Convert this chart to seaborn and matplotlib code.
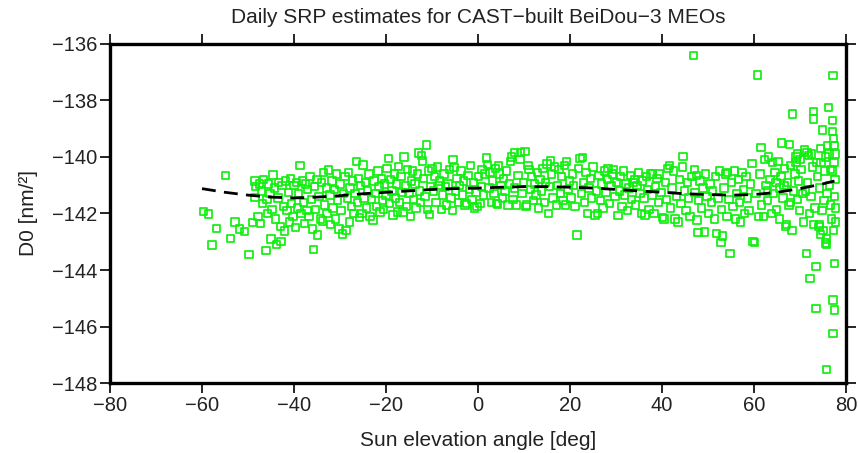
import matplotlib
matplotlib.use("Agg")
import matplotlib.pyplot as plt
import seaborn as sns
import pandas as pd

# ---- data ----
elev_a = [-59.7, -58.6, -57.8, -56.8, -54.9, -53.8, -52.8, -51.9, -50.8, -49.8, -49.0, -48.5, -48.5, -48.3]
d0_a = [-141.93, -142.02, -143.12, -142.52, -140.66, -142.88, -142.3, -142.55, -142.64, -143.44, -142.31, -140.85, -141.44, -141.05]

elev_b = [-47.8, -47.5, -47.3, -47.0, -46.8, -46.6, -46.1, -45.9, -45.7, -45.5, -45.2, -45.0, -44.8, -44.6,
          -44.3, -44.0, -43.8, -43.5, -43.3, -43.0, -42.8, -42.6, -42.3, -42.0, -41.8, -41.5, -41.2, -41.0,
          -40.7, -40.5, -40.2, -40.0, -39.7, -39.5, -39.2, -39.0, -38.7, -38.5, -38.2, -38.0, -37.7, -37.5,
          -37.2, -37.0, -36.7, -36.5, -36.2, -36.0, -35.8, -35.5, -35.3, -35.0, -34.9, -34.6, -34.3, -34.0,
          -33.8, -33.6, -33.3, -33.0, -32.8, -32.5, -32.2, -32.0, -31.7, -31.5, -31.2, -31.0, -30.7, -30.5,
          -30.2, -30.0, -29.8, -29.5, -29.2, -28.9, -28.7]
d0_b = [-142.1, -140.95, -142.36, -141.2, -141.65, -140.8, -143.3, -141.5, -142.0, -140.95, -141.3, -142.9, -141.85, -140.64,
        -141.1, -142.2, -143.1, -141.45, -140.9, -142.45, -143.0, -141.0, -141.75, -142.62, -140.85, -141.9, -141.25, -142.3,
        -140.75, -141.65, -142.1, -141.0, -142.5, -140.9, -141.8, -141.3, -140.3, -142.0, -140.85, -141.6, -142.35, -140.95,
        -141.9, -141.15, -142.1, -140.7, -141.5, -142.55, -143.27, -141.05, -141.85, -140.8, -142.76, -141.4, -142.2, -140.9,
        -142.26, -140.55, -141.7, -141.1, -142.0, -140.46, -141.35, -142.4, -140.85, -141.8, -141.15, -142.2, -140.6, -141.55,
        -142.55, -140.95, -141.9, -142.73, -141.3, -140.7, -142.6]

elev_c = [-28.4, -28.2, -28.0, -27.8, -27.5, -27.3, -27.0, -26.7, -26.4, -26.2, -26.0, -25.8, -25.5, -25.2,
          -25.0, -24.8, -24.5, -24.2, -24.0, -23.7, -23.5, -23.2, -22.8, -22.6, -22.3, -22.0, -21.7, -21.5,
          -21.3, -21.0, -20.8, -20.6, -20.3, -20.0, -19.8, -19.5, -19.2, -19.0, -18.7, -18.5, -18.2, -18.0,
          -17.7, -17.5, -17.3, -17.0, -16.7, -16.5, -16.3, -16.1, -15.8, -15.5, -15.3, -15.0, -14.7, -14.5,
          -14.3, -14.0, -13.7, -13.5, -13.2, -13.0, -12.7, -12.5, -12.3, -12.1, -11.8, -11.5, -11.2, -11.0,
          -10.8, -10.6, -10.3, -10.0]
d0_c = [-141.45, -140.55, -142.3, -141.1, -141.75, -140.85, -142.0, -141.3, -140.16, -141.6, -140.75, -142.15, -141.0, -142.0,
        -140.28, -141.45, -140.9, -141.8, -141.2, -140.6, -142.1, -141.5, -142.23, -140.85, -141.3, -141.75, -140.5, -141.05,
        -141.95, -140.75, -141.55, -141.85, -140.95, -141.35, -140.4, -140.05, -141.65, -140.8, -141.2, -142.05, -140.6, -141.45,
        -140.95, -141.95, -140.34, -141.6, -140.7, -141.25, -141.95, -140.0, -141.0, -141.75, -140.45, -141.3, -142.1, -140.85,
        -140.5, -141.5, -140.95, -141.8, -140.6, -139.86, -141.2, -141.6, -139.95, -140.14, -140.75, -141.4, -139.58, -141.85,
        -140.5, -142.03, -141.05, -140.4]

elev_d = [-9.7, -9.4, -9.1, -8.8, -8.5, -8.3, -8.0, -7.7, -7.4, -7.1, -6.8, -6.5, -6.2, -5.9, -5.6, -5.4, -5.2,
          -4.9, -4.6, -4.3, -4.0, -3.7, -3.4, -3.1, -2.8, -2.5, -2.2, -1.9, -1.6, -1.3, -1.0, -0.7, -0.4, -0.2,
          0.1, 0.4, 0.7, 0.9, 1.2, 1.5, 1.9, 2.1, 2.4, 2.6, 2.9, 3.2, 3.5, 3.8, 4.0, 4.2, 4.4, 4.7, 5.0, 5.3,
          5.6, 5.9, 6.2, 6.5, 6.8, 7.1, 7.3, 7.6, 7.9, 8.0, 8.4, 8.7, 9.1, 9.3, 9.6, 9.9, 10.2, 10.4, 10.6,
          10.9, 11.1, 11.4, 11.7, 12.0, 12.3, 12.6, 12.9, 13.2, 13.5, 13.8, 14.1, 14.4, 14.7, 15.0, 15.3, 15.6,
          15.7, 16.0, 16.3, 16.6, 17.0, 17.3, 17.6, 17.9, 18.2, 18.5, 18.8, 19.0, 19.3, 19.6, 19.9, 20.2, 20.5,
          20.8, 21.1, 21.5, 21.8, 22.2, 22.5, 22.7, 22.9, 23.2, 23.5, 23.8, 24.1, 24.4, 24.7, 25.0, 25.4, 25.7,
          26.0, 26.3, 26.6, 26.9, 27.2, 27.5, 27.8, 28.1, 28.3, 28.6, 28.9, 29.2, 29.5, 29.8, 30.1, 30.4, 30.7,
          31.0, 31.3, 31.6, 31.9, 32.2, 32.5, 32.8, 33.1, 33.4, 33.7, 34.0, 34.3, 34.6, 34.9, 35.2, 35.5, 35.8,
          36.1, 36.3, 36.6, 36.9, 37.2, 37.5, 37.8, 38.0, 38.3, 38.6, 38.9, 39.2, 39.5, 39.8]
d0_d = [-141.2, -140.7, -141.6, -140.35, -141.0, -140.85, -141.85, -141.35, -140.6, -141.05, -141.7, -140.95, -140.45, -141.45, -141.9, -140.1, -140.38,
        -141.2, -140.75, -141.6, -141.0, -140.5, -141.35, -140.85, -141.7, -141.64, -140.65, -141.15, -140.3, -141.5, -140.9, -141.8, -141.25, -141.75,
        -140.7, -141.64, -141.05, -140.45, -141.35, -140.6, -140.04, -140.27, -141.1, -140.55, -141.6, -140.85, -141.3, -140.4, -141.65, -141.66, -140.3, -140.6, -141.0, -141.45,
        -140.75, -141.2, -140.5, -141.7, -140.95, -140.16, -140.0, -141.5, -141.1, -139.85, -141.7, -140.65, -140.1, -139.85, -141.3, -140.9, -139.8, -141.75, -141.7,
        -140.3, -140.45, -141.15, -140.7, -141.55, -140.95, -141.35, -140.55, -141.8, -140.8, -141.2, -140.4, -141.6, -140.9, -140.25, -141.99, -141.05,
        -140.14, -140.6, -141.45, -140.35, -141.7, -141.0, -140.45, -141.3, -140.7, -141.55, -140.3, -141.7, -140.15, -141.15, -140.85, -141.45, -140.6,
        -141.0, -141.75, -142.76, -140.4, -140.05, -141.3, -140.02, -140.9, -141.6, -140.55, -142.0, -141.1, -140.75, -141.45, -140.35, -142.06, -141.2,
        -142.0, -140.65, -141.55, -140.95, -141.8, -140.5, -141.25, -140.8, -140.4, -141.65, -141.0, -140.6, -140.45, -141.4, -140.9, -142.06, -141.2,
        -140.7, -141.75, -140.5, -141.35, -140.95, -141.9, -141.1, -140.65, -141.5, -140.9, -140.8, -141.7, -141.0, -140.55, -141.3, -142.0, -140.85,
        -141.45, -142.05, -140.7, -141.15, -141.85, -140.6, -141.35, -140.6, -142.0, -141.05, -140.75, -141.6, -140.6, -141.25]

elev_e = [40.1, 40.4, 40.7, 41.0, 41.3, 41.6, 41.9, 42.2, 42.5, 42.8, 43.1, 43.5, 43.8, 44.1, 44.4, 44.6, 44.9,
          45.2, 45.5, 45.8, 46.1, 46.4, 46.8, 47.0, 47.2, 47.5, 47.6, 47.8, 48.0, 48.3, 48.6, 48.9, 49.3, 49.5,
          49.8, 50.1, 50.4, 50.7, 51.0, 51.4, 51.7, 51.9, 52.2, 52.5, 52.8, 53.0, 53.2, 53.5, 53.8, 54.1, 54.3,
          54.6, 54.8, 55.1, 55.4, 55.7, 56.0, 56.3, 56.6, 56.9, 57.0, 57.4, 57.7, 58.0, 58.3, 58.6, 58.9, 59.2,
          59.6, 59.8, 60.1, 60.4, 60.7, 61.0, 61.3, 61.5, 61.7, 62.0]
d0_e = [-142.15, -142.2, -140.9, -141.5, -140.4, -140.3, -141.8, -141.1, -140.5, -142.2, -141.4, -142.3, -140.8, -141.65, -140.35, -139.99, -141.2,
        -141.9, -140.9, -141.45, -142.1, -140.7, -136.41, -140.45, -141.25, -140.65, -142.23, -142.68, -141.55, -140.85, -141.8, -141.1, -142.65, -140.6,
        -141.4, -142.0, -140.95, -141.6, -141.2, -142.2, -140.7, -142.7, -141.45, -140.5, -143.03, -141.85, -142.8, -141.1, -140.6, -142.1, -140.55,
        -141.5, -143.41, -140.9, -141.75, -140.5, -142.2, -141.3, -140.8, -141.6, -142.3, -140.55, -141.15, -142.0, -140.7, -141.45, -141.9, -140.95,
        -140.22, -143.0, -143.03, -141.3, -137.1, -142.1, -140.6, -139.66, -141.7, -142.1]

elev_f = [62.3, 62.6, 62.9, 63.0, 63.2, 63.5, 63.8, 64.0, 64.3, 64.6, 64.8, 64.9, 65.2, 65.5, 65.6, 65.9, 66.0,
          66.3, 66.5, 66.6, 66.9, 67.0, 67.3, 67.6, 67.7, 68.0, 68.0, 68.3, 68.4, 68.6, 68.9, 69.1, 69.1, 69.4,
          69.5, 69.7, 69.9, 70.0, 70.2, 70.5, 70.8, 71.0, 71.2, 71.4, 71.5, 71.7, 71.8, 72.0, 72.2, 72.4, 72.5,
          72.7, 72.9, 73.0, 73.0, 73.3, 73.5, 73.5, 73.6, 73.8, 74.1, 74.3, 74.3, 74.4, 74.5, 74.6, 74.8, 74.9,
          75.0, 75.2, 75.3, 75.5, 75.5, 75.7, 75.8, 75.8, 75.9, 76.0, 76.2, 76.3, 76.4, 76.6, 76.7, 76.8, 77.0,
          77.0, 77.1, 77.2, 77.2, 77.2, 77.3, 77.3, 77.4, 77.4, 77.5, 77.5, 77.5, 77.6, 77.6, 77.7, 77.7]
d0_f = [-140.1, -141.0, -141.55, -141.2, -140.0, -140.8, -142.0, -140.2, -141.3, -140.55, -140.9, -141.85, -140.15, -141.1, -142.2, -140.7, -139.5,
        -141.45, -141.0, -140.4, -142.45, -142.4, -140.9, -141.7, -139.55, -140.3, -141.6, -142.6, -138.48, -141.2, -140.6, -140.0, -140.2, -141.5,
        -139.9, -140.85, -141.9, -140.1, -140.45, -141.3, -142.3, -139.75, -141.2, -143.41, -139.85, -140.9, -139.95, -142.0, -144.3, -141.4, -139.9,
        -140.35, -142.4, -138.4, -138.65, -141.8, -143.88, -145.36, -140.2, -140.7, -142.45, -141.1, -142.4, -139.7, -142.75, -140.2, -141.9, -139.04,
        -142.6, -141.55, -140.5, -140.0, -143.05, -143.1, -142.9, -147.52, -141.3, -139.6, -138.24, -139.9, -141.0, -140.45, -141.7, -142.2, -138.7,
        -140.5, -139.1, -137.12, -145.06, -146.24, -139.35, -142.6, -140.2, -139.6, -143.76, -145.42, -141.4, -139.9, -140.8, -141.8, -142.3]

# fitted curve (dashed)
fit_elev = [-60, -55, -50, -45, -40, -35, -30, -25, -20, -15, -10, -5, 0, 5, 10, 15, 20, 25, 30, 35,
            40, 45, 50, 55, 60, 65, 70, 75, 77.5]
fit_d0 = [-141.12, -141.25, -141.35, -141.42, -141.45, -141.42, -141.37, -141.3, -141.25, -141.2, -141.15,
          -141.12, -141.1, -141.07, -141.05, -141.05, -141.07, -141.1, -141.15, -141.2, -141.25, -141.3,
          -141.33, -141.35, -141.33, -141.25, -141.12, -140.95, -140.85]

x_ticks = [-80, -60, -40, -20, 0, 20, 40, 60, 80]
y_ticks = [-136, -138, -140, -142, -144, -146, -148]

# ---- build frames ----
elev = elev_a + elev_b + elev_c + elev_d + elev_e + elev_f
d0 = d0_a + d0_b + d0_c + d0_d + d0_e + d0_f
pts = pd.DataFrame({"elev": elev, "d0": d0})
fit = pd.DataFrame({"elev": fit_elev, "d0": fit_d0})

sns.set_style("ticks")
plt.rcParams["font.family"] = ["Liberation Sans", "DejaVu Sans"]

fig = plt.figure(figsize=(8.58, 4.53), dpi=100)
ax = fig.add_axes([0.1282, 0.1545, 0.8578, 0.7484])

sns.scatterplot(data=pts, x="elev", y="d0", ax=ax, marker="s", s=28,
                facecolors="none", edgecolor="#11ee11", linewidth=1.25, zorder=2)
sns.lineplot(data=fit, x="elev", y="d0", ax=ax, color="black", linewidth=2.0,
             linestyle=(0, (5, 3)), zorder=3)

ax.set_xlim(-80, 80)
ax.set_ylim(-148, -136)
ax.set_xticks(x_ticks)
ax.set_yticks(y_ticks)
ax.tick_params(axis="both", which="major", direction="out", length=7, width=1.2,
               labelsize=14.5, top=True, right=True, labeltop=False, labelright=False,
               color="black", labelcolor="#222222", pad=2)
for sp in ax.spines.values():
    sp.set_visible(True)
    sp.set_linewidth(2.4)
    sp.set_color("black")

ax.set_xlabel("Sun elevation angle [deg]", fontsize=15, color="#222222", labelpad=12)
ax.set_ylabel("D0 [nm/²]", fontsize=15, color="#222222", labelpad=10)
ax.set_title("Daily SRP estimates for CAST\u2212built BeiDou\u22123 MEOs", fontsize=15,
             color="#222222", pad=15)

fig.savefig("out.png", dpi=100)
